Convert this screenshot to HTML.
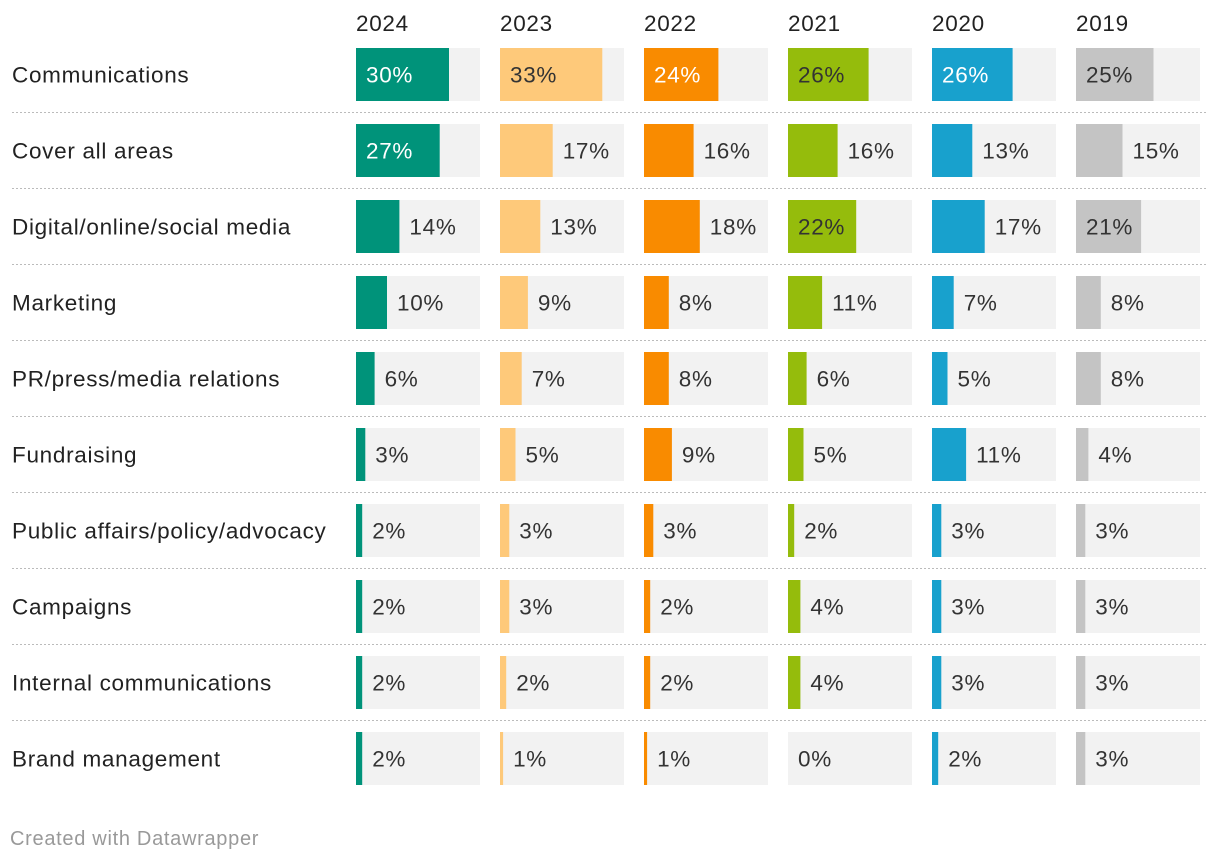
<!DOCTYPE html>
<html><head><meta charset="utf-8">
<style>
body{margin:0;background:#fff;width:1220px;height:862px;overflow:hidden;font-family:"Liberation Sans",sans-serif;}
svg text{font-family:"Liberation Sans",sans-serif;letter-spacing:0.7px;}
</style></head>
<body>
<svg id="chart" width="1220" height="862" xmlns="http://www.w3.org/2000/svg"></svg>
<script>
const years = ["2024","2023","2022","2021","2020","2019"];
const categories = ["Communications","Cover all areas","Digital/online/social media","Marketing","PR/press/media relations","Fundraising","Public affairs/policy/advocacy","Campaigns","Internal communications","Brand management"];
const v2024 = [30,27,14,10,6,3,2,2,2,2];
const v2023 = [33,17,13,9,7,5,3,3,2,1];
const v2022 = [24,16,18,8,8,9,3,2,2,1];
const v2021 = [26,16,22,11,6,5,2,4,4,0];
const v2020 = [26,13,17,7,5,11,3,3,3,2];
const v2019 = [25,15,21,8,8,4,3,3,3,3];
const seriesValues = [v2024,v2023,v2022,v2021,v2020,v2019];
const colors = ["#00937a","#fec97a","#f98b00","#95bc0c","#18a1cd","#c4c4c4"];
const insideText = ["#fff","#333","#fff","#333","#fff","#333"];
const maxVal = 40;

const svg = document.getElementById('chart');
const NS = "http://www.w3.org/2000/svg";
const colX = i => 356 + i*144;
const colW = 124;
const xScale = v => v/maxVal*colW;
const rowY = r => 48 + r*76;
const barH = 53;

function mk(tag, attrs, txt){
  const e = document.createElementNS(NS, tag);
  for (const k in attrs) e.setAttribute(k, attrs[k]);
  if (txt!==undefined) e.textContent = txt;
  svg.appendChild(e);
  return e;
}

years.forEach((y,i)=>{
  const t = mk('text',{x:colX(i),y:31,'font-size':22.5,fill:'#222'},y);
  
  
});

categories.forEach((c,r)=>{
  const cy = rowY(r)+barH/2;
  const t = mk('text',{x:12,y:cy+8,'font-size':22.5,fill:'#222'},c);
  
  
  if (r < categories.length-1){
    const l = mk('line',{x1:12,x2:1208,y1:rowY(r)+barH+11.5,y2:rowY(r)+barH+11.5,stroke:'#bbb','stroke-width':1,'stroke-dasharray':'2,2'});
    
    
  }
  years.forEach((y,i)=>{
    const v = seriesValues[i][r];
    const bg = mk('rect',{x:colX(i),y:rowY(r),width:colW,height:barH,fill:'#f2f2f2'});
    
    
    const w = xScale(v);
    const b = mk('rect',{x:colX(i),y:rowY(r),width:w,height:barH,fill:colors[i]});
    
    
    const inside = v >= 20;
    const lx = inside ? colX(i)+10 : colX(i)+w+10;
    const lt = mk('text',{x:lx,y:cy+8,'font-size':22.5,fill:inside?insideText[i]:'#333'},v+'%');
    
    
  });
});

const f = mk('text',{x:10,y:845,'font-size':20,fill:'#999','letter-spacing':'0.5px'},'Created with Datawrapper');


</script>
</body></html>
